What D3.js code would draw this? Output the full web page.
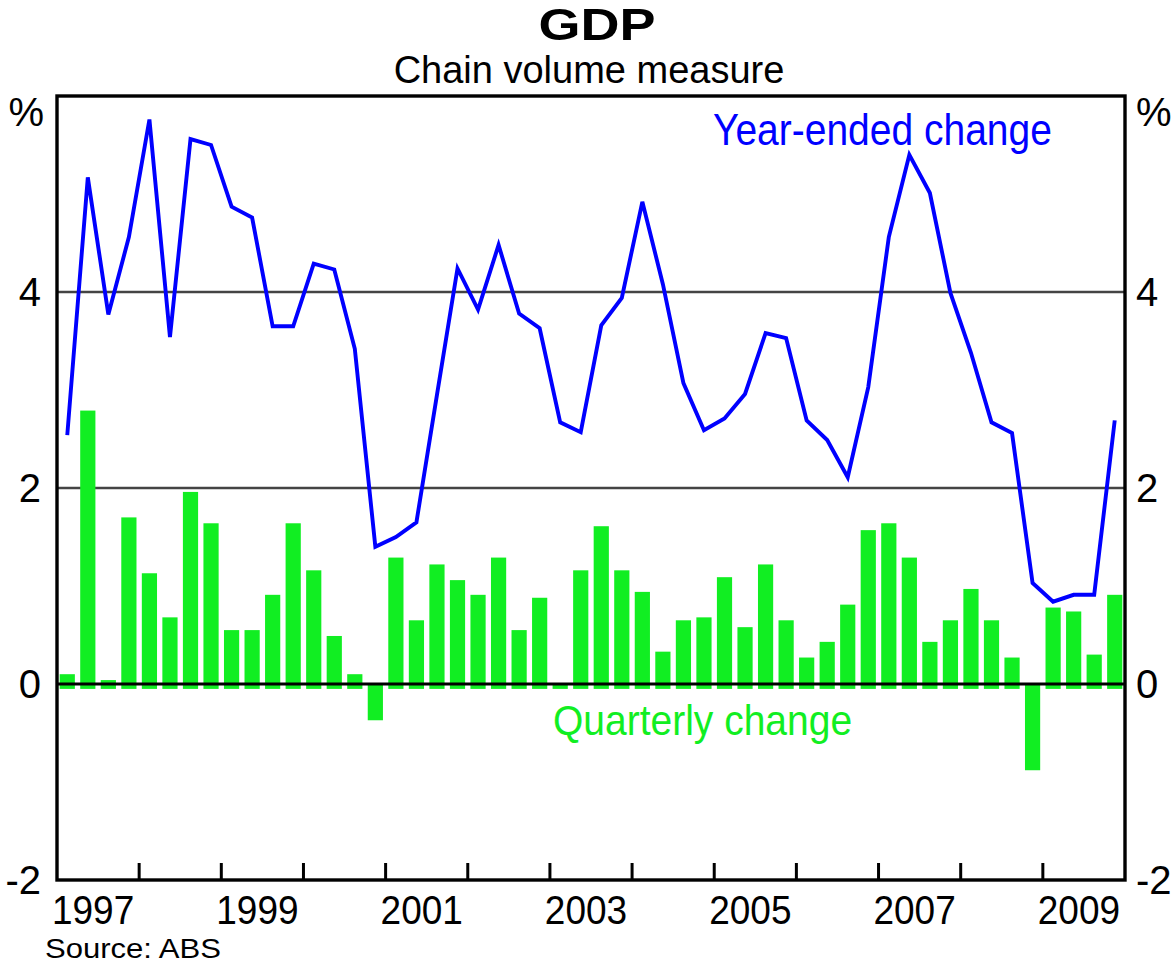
<!DOCTYPE html>
<html>
<head>
<meta charset="utf-8">
<script src="https://cdn.jsdelivr.net/npm/d3@7"></script>
<style>
  html, body { margin: 0; padding: 0; background: #fff; }
  svg { display: block; font-family: "Liberation Sans", Arial, sans-serif; }
</style>
</head>
<body>
<svg id="chart" width="1176" height="964"></svg>
<script>
// ---- data ----
const years = [1997, 1998, 1999, 2000, 2001, 2002, 2003, 2004, 2005, 2006, 2007, 2008, 2009];
const quarterNames = ["Mar", "Jun", "Sep", "Dec"];
const quarters = years.flatMap(y => quarterNames.map(q => q + "-" + y));
const yearLabels = ["1997", "1999", "2001", "2003", "2005", "2007", "2009"];
const yTicks = [-2, 0, 2, 4];

// Quarterly change in GDP (%)
const quarterlyChange = [
  0.10, 2.79, 0.04, 1.70, 1.13, 0.68, 1.96, 1.64, 0.55, 0.55,
  0.91, 1.64, 1.16, 0.49, 0.10, -0.37, 1.29, 0.65, 1.22, 1.06,
  0.91, 1.29, 0.55, 0.88, 0.00, 1.16, 1.61, 1.16, 0.94, 0.33,
  0.65, 0.68, 1.09, 0.58, 1.22, 0.65, 0.27, 0.43, 0.81, 1.57,
  1.64, 1.29, 0.43, 0.65, 0.97, 0.65, 0.27, -0.88, 0.78, 0.74,
  0.30, 0.91
];
// Year-ended change in GDP (%)
const yearEndedChange = [
  2.54, 5.17, 3.77, 4.56, 5.76, 3.54, 5.56, 5.50, 4.87, 4.76,
  3.65, 3.65, 4.29, 4.23, 3.42, 1.40, 1.50, 1.65, 2.95, 4.24,
  3.82, 4.48, 3.78, 3.63, 2.67, 2.57, 3.66, 3.94, 4.92, 4.08,
  3.07, 2.59, 2.71, 2.96, 3.58, 3.53, 2.69, 2.49, 2.11, 3.03,
  4.56, 5.40, 5.01, 3.99, 3.38, 2.67, 2.56, 1.03, 0.84, 0.91,
  0.91, 2.69
];

// ---- layout ----
const L = 57, R = 1125, T = 96, B = 880;
const svg = d3.select("#chart");
svg.append("rect").attr("width", 1176).attr("height", 964).attr("fill", "#fff");

const x = d3.scaleBand().domain(quarters).range([L, R]).paddingInner(0.26).paddingOuter(0.13);
const y = d3.scaleLinear().domain([-2, 6]).range([B, T]);
const yearStart = d3.scaleLinear().domain([years[0], years[years.length - 1] + 1]).range([L, R]);

const GREEN = "#11ee22", BLUE = "#0000ff";

// gridlines
svg.append("g").selectAll("line").data([2, 4]).join("line")
  .attr("x1", L).attr("x2", R)
  .attr("y1", d => y(d)).attr("y2", d => y(d))
  .attr("stroke", "#444").attr("stroke-width", 2.6);

// bars
svg.append("g").selectAll("rect").data(quarterlyChange).join("rect")
  .attr("x", (d, i) => x(quarters[i]))
  .attr("width", x.bandwidth())
  .attr("y", d => y(Math.max(d, 0)))
  .attr("height", d => y(Math.min(d, -0.05)) - y(Math.max(d, 0)))
  .attr("fill", GREEN);

// zero line
svg.append("line").attr("x1", L).attr("x2", R).attr("y1", y(0)).attr("y2", y(0))
  .attr("stroke", "#000").attr("stroke-width", 3);

// year-ended line
const line = d3.line()
  .x((d, i) => x(quarters[i]) + x.bandwidth() / 2)
  .y(d => y(d));
svg.append("path").datum(yearEndedChange)
  .attr("d", line)
  .attr("fill", "none").attr("stroke", BLUE).attr("stroke-width", 3.9)
  .attr("stroke-linejoin", "miter");

// year ticks (inward, at year boundaries)
svg.append("g").selectAll("line").data(years.slice(1)).join("line")
  .attr("x1", d => yearStart(d)).attr("x2", d => yearStart(d))
  .attr("y1", B).attr("y2", B - 17)
  .attr("stroke", "#000").attr("stroke-width", 3);

// frame
svg.append("rect").attr("x", L).attr("y", T).attr("width", R - L).attr("height", B - T)
  .attr("fill", "none").attr("stroke", "#000").attr("stroke-width", 3.4);

// helper for text with optional stretch
function txt(str, tx, ty, opts) {
  const o = Object.assign({size: 40, anchor: "start", fill: "#000", sy: 1, sx: 1, weight: "normal"}, opts || {});
  return svg.append("text")
    .attr("transform", `translate(${tx},${ty}) scale(${o.sx},${o.sy})`)
    .attr("text-anchor", o.anchor)
    .attr("font-size", o.size)
    .attr("font-weight", o.weight)
    .attr("fill", o.fill)
    .text(str);
}

// y tick labels, both sides
yTicks.forEach(v => {
  txt(String(v), 41, y(v) + 14, {anchor: "end"});
  txt(String(v), 1136, y(v) + 14, {anchor: "start"});
});
txt("%", 44, 126, {anchor: "end"});
txt("%", 1136, 126, {anchor: "start"});

// x year labels
yearLabels.forEach(s => {
  const yr = +s;
  const cx = (yearStart(yr) + yearStart(yr + 1)) / 2 - 5;
  txt(s, cx, 924, {anchor: "middle", size: 37, sy: 1.12});
});

// titles
txt("GDP", 597, 40, {anchor: "middle", size: 50, weight: "bold", sx: 1.08, sy: 0.88});
txt("Chain volume measure", 589, 83, {anchor: "middle", size: 38});

// series labels
txt("Year-ended change", 713, 145, {size: 39, fill: BLUE, sy: 1.12});
txt("Quarterly change", 553, 735, {size: 39, fill: GREEN, sy: 1.07});

// source
txt("Source: ABS", 45, 958, {size: 27, sx: 1.15});
</script>
</body>
</html>
